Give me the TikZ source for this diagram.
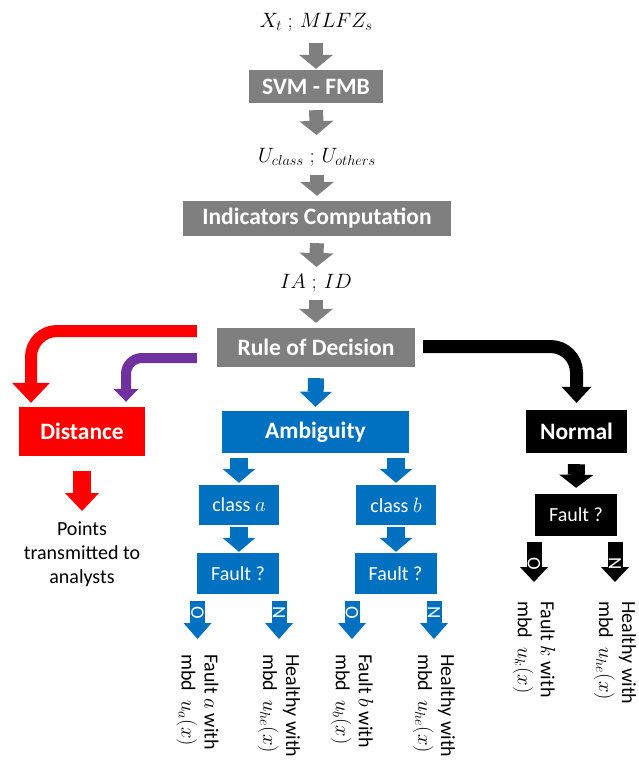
\documentclass[tikz,border=0pt]{standalone}
\usepackage{amsmath}
\usepackage{fontspec}
\setmainfont{Carlito}
\usetikzlibrary{arrows.meta,positioning}

\definecolor{boxgray}{RGB}{127,127,127}
\definecolor{boxblue}{RGB}{0,112,192}
\definecolor{boxpurple}{RGB}{112,48,160}

\tikzset{
  txt/.style={inner sep=0pt, font=\fontsize{20}{24}\selectfont},
  box/.style={txt, text=white},
  bigbox/.style={inner sep=0pt, text=white, font=\fontsize{23.5}{26}\selectfont\bfseries},
  vtxt/.style={inner sep=0pt, font=\fontsize{20}{23}\selectfont, rotate=-90, anchor=west, align=left},
  yn/.style={inner sep=0pt, text=white, rotate=-90, font=\fontsize{19}{19}\selectfont},
  fat/.style args={#1/#2/#3}{line width=#1pt, -{Triangle[width=#2pt,length=#3pt,line width=0pt]}},
}

\begin{document}
\begin{tikzpicture}[x=1pt,y=-1pt]
    \useasboundingbox (0,0) rectangle (638,763);
    %main column
    \node[txt] (xt) at (316,22) {$X_t\;;\,MLFZ_s$};
    \node[bigbox, fill=boxgray, minimum width=134pt, minimum height=33pt] (svm) at (316,86.5) {SVM - FMB};
    \node[txt] (u) at (317,157) {$U_{class}\;;\,U_{others}$};
    \node[bigbox, fill=boxgray, minimum width=268pt, minimum height=35pt] (ind) at (317,218.5) {Indicators Computation};
    \node[txt] (ia) at (316,283) {$IA\;;\,ID$};
    \node[bigbox, fill=boxgray, minimum width=198pt, minimum height=39pt] (rule) at (316,347.5) {Rule of Decision};
    %decisions
    \node[bigbox, fill=red, minimum width=126pt, minimum height=49pt] (dist) at (82,431.5) {Distance};
    \node[bigbox, fill=boxblue, minimum width=187pt, minimum height=42pt] (amb) at (315.5,432) {Ambiguity};
    \node[bigbox, fill=black, minimum width=101pt, minimum height=43pt] (norm) at (576.5,431.5) {Normal};
    \node[txt, align=center, anchor=north] (pts) at (82,522) {Points\\transmitted to\\analysts};
    %classes
    \node[box, fill=boxblue, minimum width=80pt, minimum height=40pt] (ca) at (239,505) {class $a$};
    \node[box, fill=boxblue, minimum width=80pt, minimum height=40pt] (cb) at (396,505) {class $b$};
    \node[box, fill=boxblue, minimum width=82pt, minimum height=41pt] (fa) at (238,573.5) {Fault ?};
    \node[box, fill=boxblue, minimum width=82pt, minimum height=41pt] (fb) at (395.5,573.5) {Fault ?};
    \node[box, fill=black, minimum width=82pt, minimum height=42pt] (fn) at (576,515) {Fault ?};
    %outcomes
    \node[vtxt] (fao) at (197.5,654) {Fault $a$ with\\mbd\ \ $u_a(x)$};
    \node[vtxt] (fan) at (279,654) {Healthy with\\mbd\ \ $u_{he}(x)$};
    \node[vtxt] (fbo) at (352,654) {Fault $b$ with\\mbd\ \ $u_b(x)$};
    \node[vtxt] (fbn) at (434,654) {Healthy with\\mbd\ \ $u_{he}(x)$};
    \node[vtxt] (fno) at (534,601) {Fault $k$ with\\mbd\ \ $u_k(x)$};
    \node[vtxt] (fnn) at (615,601) {Healthy with\\mbd\ \ $u_{he}(x)$};
    %gray arrows
    \draw[boxgray, fat=14/34/14, shorten <=21pt, shorten >=1pt] (xt.center) -- (svm.north);
    \draw[boxgray, fat=14/34/14, shorten <=7pt, shorten >=22pt] (svm.south) -- (u.center);
    \draw[boxgray, fat=14/34/14, shorten <=18pt, shorten >=5pt] (u.center) -- (ind.north);
    \draw[boxgray, fat=14/34/14, shorten <=7pt, shorten >=16pt] (ind.south) -- (ia.center);
    \draw[boxgray, fat=14/34/14, shorten <=17pt, shorten >=5pt] (ia.center) -- (rule.north);
    %decision arrows
    \draw[red, fat=12/38/20, rounded corners=26pt, shorten <=20pt, shorten >=4pt]
      ([yshift=16.5pt]rule.west) -| ([xshift=-51pt]dist.north);
    \draw[boxpurple, fat=10/25/13, rounded corners=16pt, shorten <=20pt, shorten >=5pt]
      ([yshift=-10.5pt]rule.west) -| ([xshift=44pt]dist.north);
    \draw[black, fat=13/30/16, rounded corners=26pt, shorten <=8pt, shorten >=7pt]
      ([yshift=1pt]rule.east) -| (norm.north);
    \draw[boxblue, fat=16/32/15, shorten <=11pt, shorten >=4pt] (rule.south) -- (amb.south |- amb.north);
    \draw[red, fat=18/34/18, shorten <=15pt, shorten >=11pt] (dist.south) -- (pts.north);
    %class arrows
    \draw[boxblue, fat=18/33/14, shorten <=5pt, shorten >=2pt] (amb.south -| ca.north) -- (ca.north);
    \draw[boxblue, fat=18/33/14, shorten <=5pt, shorten >=2pt] (amb.south -| cb.north) -- (cb.north);
    \draw[boxblue, fat=18/33/14, shorten <=2pt, shorten >=1pt] (ca.south) -- (ca.south |- fa.north);
    \draw[boxblue, fat=18/33/14, shorten <=2pt, shorten >=1pt] (cb.south) -- (cb.south |- fb.north);
    \draw[black, fat=17/34/13, shorten <=11pt, shorten >=6pt] (norm.south) -- (fn.north);
    %O and N arrows
    \draw[boxblue, fat=15/28/16, shorten <=7pt, shorten >=15pt] (fa.south -| fao.west) -- node[yn, pos=0.31] {O} (fao.west);
    \draw[boxblue, fat=15/28/16, shorten <=7pt, shorten >=15pt] (fa.south -| fan.west) -- node[yn, pos=0.31] {N} (fan.west);
    \draw[boxblue, fat=15/28/16, shorten <=7pt, shorten >=15pt] (fb.south -| fbo.west) -- node[yn, pos=0.31] {O} (fbo.west);
    \draw[boxblue, fat=15/28/16, shorten <=7pt, shorten >=15pt] (fb.south -| fbn.west) -- node[yn, pos=0.31] {N} (fbn.west);
    \draw[black, fat=15/28/15, shorten <=6pt, shorten >=19pt] (fn.south -| fno.west) -- node[yn, pos=0.42] {O} (fno.west);
    \draw[black, fat=15/28/15, shorten <=6pt, shorten >=19pt] (fn.south -| fnn.west) -- node[yn, pos=0.42] {N} (fnn.west);
\end{tikzpicture}
\end{document}
